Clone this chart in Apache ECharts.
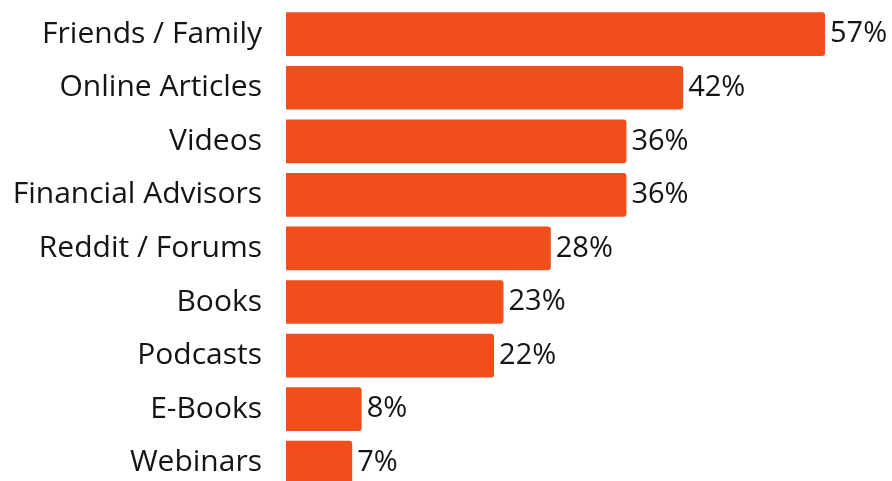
<!DOCTYPE html>
<html>
<head>
<meta charset="utf-8">
<script src="https://cdn.jsdelivr.net/npm/echarts@6/dist/echarts.min.js"></script>
<style>
  html, body { margin: 0; padding: 0; background: #ffffff; }
  #chart { width: 892px; height: 481px; }
</style>
</head>
<body>
<div id="chart"></div>
<script>
// Sources of information, share of respondents (%)
const categories = [
  'Friends / Family',
  'Online Articles',
  'Videos',
  'Financial Advisors',
  'Reddit / Forums',
  'Books',
  'Podcasts',
  'E-Books',
  'Webinars'
];
const shares = [57, 42, 36, 36, 28, 23, 22, 8, 7];

const FONT = '"Open Sans", Lato, sans-serif';
const chart = echarts.init(document.getElementById('chart'), null, { renderer: 'canvas' });

chart.setOption({
  animation: false,
  backgroundColor: '#ffffff',
  grid: {
    left: 286, top: 7.4, width: 567.4, height: 482.1,
    containLabel: false,
    outerBoundsMode: 'none'
  },
  xAxis: {
    type: 'value',
    min: 0,
    max: 60,
    show: false
  },
  yAxis: {
    type: 'category',
    data: categories,
    inverse: true,
    axisLine: { show: false },
    axisTick: { show: false },
    splitLine: { show: false },
    axisLabel: {
      margin: 24,
      color: '#141414',
      fontFamily: FONT,
      fontSize: 30,
      padding: [0, 0, 5, 0]
    }
  },
  series: [{
    type: 'bar',
    data: shares,
    barCategoryGap: '18.4%',
    itemStyle: { color: '#F04E1B', borderRadius: [0, 3, 3, 0] },
    label: {
      show: true,
      position: 'right',
      distance: 5,
      formatter: '{c}%',
      color: '#141414',
      fontFamily: FONT,
      fontSize: 29
    }
  }]
});
</script>
</body>
</html>
